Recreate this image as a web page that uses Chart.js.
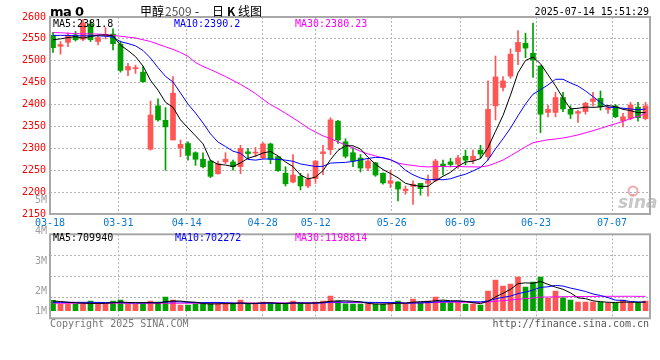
<!DOCTYPE html>
<html><head><meta charset="utf-8">
<script src="https://cdn.jsdelivr.net/npm/chart.js@4.4.1/dist/chart.umd.min.js"></script>
<style>
html,body{margin:0;padding:0;background:#fff;}
#wrap{position:relative;width:660px;height:360px;overflow:hidden;}
#wrap canvas{position:absolute;left:0;top:0;}
</style></head><body>
<div id="wrap"><canvas id="cK" width="660" height="360"></canvas><canvas id="cV" width="660" height="360"></canvas></div>
<script>
// ---------------- data ----------------
const dates = ['03-18','03-19','03-20','03-21','03-24','03-25','03-26','03-27','03-28','03-31',
 '04-01','04-02','04-03','04-07','04-08','04-09','04-10','04-11','04-14','04-15',
 '04-16','04-17','04-18','04-21','04-22','04-23','04-24','04-25','04-28','04-29',
 '04-30','05-06','05-07','05-08','05-09','05-12','05-13','05-14','05-15','05-16',
 '05-19','05-20','05-21','05-22','05-23','05-26','05-27','05-28','05-29','05-30',
 '06-03','06-04','06-05','06-06','06-09','06-10','06-11','06-12','06-13','06-16',
 '06-17','06-18','06-19','06-20','06-23','06-24','06-25','06-26','06-27','06-30',
 '07-01','07-02','07-03','07-04','07-07','07-08','07-09','07-10','07-11','07-14'];
const opens = [2558,2533,2542,2559,2549,2584,2544,2558,2561,2538,
 2479,2482,2474,2298,2397,2364,2319,2301,2311,2290,
 2275,2271,2242,2269,2269,2258,2292,2289,2278,2310,
 2281,2243,2223,2236,2214,2231,2288,2297,2362,2315,
 2290,2278,2255,2267,2243,2220,2223,2203,2213,2220,
 2220,2226,2264,2269,2264,2282,2273,2296,2281,2397,
 2439,2465,2521,2540,2517,2488,2382,2382,2416,2389,
 2380,2384,2407,2414,2389,2397,2363,2368,2394,2368];
const closes = [2530,2537,2558,2548,2586,2548,2553,2560,2539,2478,
 2487,2484,2452,2376,2365,2349,2426,2309,2284,2275,
 2258,2236,2265,2275,2258,2300,2288,2291,2310,2275,
 2249,2219,2239,2214,2229,2271,2292,2365,2319,2282,
 2271,2255,2271,2239,2221,2226,2207,2207,2218,2208,
 2226,2271,2258,2263,2278,2273,2282,2287,2389,2463,
 2454,2515,2542,2529,2502,2378,2389,2416,2390,2378,
 2384,2403,2413,2395,2393,2372,2372,2399,2370,2397];
const highs = [2565,2544,2563,2567,2594,2592,2556,2576,2573,2545,
 2494,2490,2487,2408,2413,2393,2464,2319,2315,2292,
 2290,2273,2271,2290,2273,2307,2300,2302,2313,2312,
 2282,2258,2286,2243,2242,2272,2307,2370,2364,2322,
 2301,2286,2277,2268,2244,2250,2224,2214,2226,2220,
 2239,2275,2273,2277,2284,2296,2296,2307,2454,2511,
 2464,2527,2569,2563,2586,2489,2399,2428,2428,2397,
 2387,2405,2428,2431,2397,2400,2380,2405,2405,2405];
const lows = [2519,2515,2532,2545,2546,2544,2536,2550,2525,2474,
 2466,2471,2451,2296,2362,2250,2319,2281,2273,2261,
 2255,2233,2241,2265,2250,2242,2277,2281,2277,2265,
 2247,2214,2221,2205,2210,2220,2240,2286,2311,2278,
 2258,2246,2249,2236,2218,2210,2180,2195,2172,2193,
 2191,2224,2239,2258,2254,2262,2265,2278,2273,2365,
 2431,2460,2491,2507,2462,2336,2372,2372,2384,2368,
 2359,2378,2397,2387,2380,2370,2349,2365,2362,2365];
const volumes = [849000,575000,575000,548000,548000,795000,575000,575000,795000,877000,
 575000,521000,548000,795000,712000,1123000,877000,466000,466000,575000,
 575000,685000,548000,548000,548000,877000,548000,548000,712000,630000,
 548000,548000,795000,630000,548000,712000,795000,1205000,795000,575000,
 548000,548000,548000,548000,548000,685000,795000,548000,959000,712000,
 795000,1123000,795000,685000,685000,548000,548000,466000,1616000,2521000,
 2027000,2192000,2767000,1945000,2356000,2767000,1014000,1616000,1068000,877000,
 712000,712000,712000,712000,630000,630000,877000,685000,630000,795000];
// moving-average values before a full window exists
const ma5Head = [2548,2550,2553,2555];
const ma10Head = [2558,2558,2558,2557,2557,2557,2557,2556,2554];
const ma30Head = [2564.5,2564,2563,2562,2561.5,2561.5,2561,2560,2558,2556,
 2554,2552,2548,2544,2538,2532,2526,2519,2510,2496,
 2487,2480,2472,2464,2455,2446,2436,2425,2412];
const vma5Head = [800000,760000,700000,650000];
const vma10Head = [690000,690000,690000,690000,690000,690000,685000,680000,680000];
const vma30Head = [620000,620000,620000,620000,620000,620000,620000,620000,620000,620000,
 620000,620000,620000,620000,620000,620000,620000,620000,620000,620000,
 620000,620000,620000,625000,625000,630000,630000,630000,630000];
const priceMin = 2150, priceMax = 2600, priceStep = 50;
const dateTickLabels = ['03-18','03-31','04-14','04-28','05-12','05-26','06-09','06-23','07-07'];
const volTickLabels = ['5M','4M','3M','2M','1M'];
const legendPrice = ['MA5:2381.8','MA10:2390.2','MA30:2380.23'];
const legendVol = ['MA5:709940','MA10:702272','MA30:1198814'];

// ---------------- helpers ----------------
const MONO = '"DejaVu Sans Mono", monospace';
const UP = '#ff5555', DOWN = '#00a000';
const GRID = '#b4b4b4';
const N = dates.length;
const idx = dates.map((d, i) => i);
const dateTickIdx = dateTickLabels.map(l => dates.indexOf(l));
function movingAverage(vals, n, head) {
  return vals.map((v, i) => {
    if (i < n - 1) return head[i];
    let s = 0;
    for (let k = i - n + 1; k <= i; k++) s += vals[k];
    return s / n;
  });
}
const upDown = idx.map(i => closes[i] >= opens[i] ? UP : DOWN);
const pts = arr => arr.map((v, i) => ({x: i, y: v}));
const lineDs = (data, color, axis) => ({type: 'line', data: pts(data), borderColor: color, borderWidth: 1,
  pointRadius: 0, tension: 0, fill: false, xAxisID: 'x', yAxisID: axis, order: 0});

const xData = {type: 'linear', display: false, offset: false, grid: {offset: false}, min: -0.4, max: N - 0.4};
function xDates(showLabels) {
  return {
    type: 'linear', position: 'bottom', offset: false, min: 0, max: N - 1,
    afterBuildTicks: s => { s.ticks = dateTickIdx.map(v => ({value: v})); },
    afterFit: s => { s.height = showLabels ? 20 : 0; },
    grid: {color: GRID, lineWidth: 1, drawTicks: false, offset: false},
    border: {display: false, dash: [2, 2]},
    ticks: {display: showLabels, autoSkip: false, maxRotation: 0, padding: 3, color: '#0a78d2',
      font: {family: MONO, size: 10}, callback: (v, i) => dateTickLabels[i]}
  };
}

// ---------------- price chart ----------------
const priceDecor = {
  id: 'priceDecor',
  beforeDatasetsDraw(chart) {
    const ctx = chart.ctx;
    ctx.save();
    ctx.fillStyle = 'rgba(175,175,175,0.7)';
    ctx.font = 'italic bold 17px "DejaVu Sans"';
    ctx.textBaseline = 'alphabetic';
    ctx.fillText('sina', 618, 208);
    ctx.strokeStyle = 'rgba(235,150,150,0.8)';
    ctx.lineWidth = 2;
    ctx.beginPath(); ctx.arc(633, 191, 4.5, 0, Math.PI * 2); ctx.stroke();
    ctx.restore();
  },
  afterDraw(chart) {
    const ctx = chart.ctx, a = chart.chartArea;
    ctx.save();
    ctx.strokeStyle = '#a8a8a8'; ctx.lineWidth = 2;
    ctx.strokeRect(a.left, a.top, a.right - a.left, a.bottom - a.top);
    // heading
    ctx.fillStyle = '#000';
    ctx.textBaseline = 'alphabetic';
    ctx.font = 'bold 13px "DejaVu Sans"';
    ctx.fillText('m', 50, 16); ctx.fillText('a', 63, 16); ctx.fillText('0', 75, 16);
    ctx.font = '12px "Noto Sans CJK SC"';
    ctx.fillText('甲醇', 140, 16);
    ctx.fillStyle = '#555'; ctx.fillText('2509', 165, 16);
    ctx.fillStyle = '#000'; ctx.fillText('-', 195, 16);
    ctx.fillText('日', 212, 16);
    ctx.font = 'bold 12px "Noto Sans CJK SC"'; ctx.fillText('K', 227, 16);
    ctx.font = '12px "Noto Sans CJK SC"'; ctx.fillText('线图', 238, 16);
    ctx.font = '10px ' + MONO; ctx.textAlign = 'right';
    ctx.fillText('2025-07-14 15:51:29', 649, 15);
    ctx.textAlign = 'left'; ctx.textBaseline = 'middle';
    const cols = ['#000', '#0000ff', '#ff00ff'], xs = [53, 174, 295];
    legendPrice.forEach((t, i) => { ctx.fillStyle = cols[i]; ctx.fillText(t, xs[i], 24); });
    ctx.restore();
  }
};

new Chart(document.getElementById('cK'), {
  type: 'bar',
  data: {
    datasets: [
      lineDs(movingAverage(closes, 5, ma5Head), '#000000', 'y'),
      lineDs(movingAverage(closes, 10, ma10Head), '#0000ff', 'y'),
      lineDs(movingAverage(closes, 30, ma30Head), '#ff00ff', 'y'),
      {type: 'bar', data: idx.map(i => ({x: i, y: [opens[i], closes[i]]})), backgroundColor: upDown,
        borderWidth: 0, barThickness: 5, minBarLength: 1, grouped: false, xAxisID: 'x', yAxisID: 'y', order: 1},
      {type: 'bar', data: idx.map(i => ({x: i, y: [lows[i], highs[i]]})), backgroundColor: upDown,
        borderWidth: 0, barThickness: 1, minBarLength: 1, grouped: false, xAxisID: 'x', yAxisID: 'y', order: 2}
    ]
  },
  options: {
    responsive: false, animation: false,
    layout: {padding: {left: 0, right: 10, top: 17, bottom: 126}},
    plugins: {legend: {display: false}, tooltip: {enabled: false}},
    scales: {
      x: xData,
      xd: xDates(true),
      y: {
        type: 'linear', position: 'left', min: priceMin, max: priceMax,
        afterFit: s => { s.width = 50; },
        grid: {color: GRID, lineWidth: 1, drawTicks: false},
        border: {display: false, dash: [2, 2]},
        ticks: {stepSize: priceStep, autoSkip: false, padding: 4, color: '#ff0000',
          font: {family: MONO, size: 10}, callback: v => String(v)}
      }
    }
  },
  plugins: [priceDecor]
});

// ---------------- volume chart ----------------
const volMin = -620000, volMax = 6280000;
const volDecor = {
  id: 'volDecor',
  afterDraw(chart) {
    const ctx = chart.ctx, a = chart.chartArea;
    ctx.save();
    ctx.strokeStyle = '#a8a8a8'; ctx.lineWidth = 2;
    ctx.strokeRect(a.left, a.top, a.right - a.left, a.bottom - a.top);
    ctx.font = '10px ' + MONO; ctx.textBaseline = 'middle';
    const cols = ['#000', '#0000ff', '#ff00ff'], xs = [53, 175, 295];
    legendVol.forEach((t, i) => { ctx.fillStyle = cols[i]; ctx.fillText(t, xs[i], 238.5); });
    ctx.fillStyle = '#a0a0a0'; ctx.textAlign = 'right';
    const ly = [200, 231, 261, 291, 311];
    volTickLabels.forEach((t, i) => ctx.fillText(t, 47, ly[i]));
    ctx.textAlign = 'left'; ctx.fillStyle = '#777';
    ctx.fillText('Copyright 2025 SINA.COM', 50, 324);
    ctx.textAlign = 'right'; ctx.fillStyle = '#555';
    ctx.fillText('http://finance.sina.com.cn', 649, 324);
    ctx.restore();
  }
};

new Chart(document.getElementById('cV'), {
  type: 'bar',
  data: {
    datasets: [
      lineDs(movingAverage(volumes, 5, vma5Head), '#000000', 'yv'),
      lineDs(movingAverage(volumes, 10, vma10Head), '#0000ff', 'yv'),
      lineDs(movingAverage(volumes, 30, vma30Head), '#ff00ff', 'yv'),
      {type: 'bar', data: pts(volumes), backgroundColor: upDown, borderWidth: 0, barThickness: 5,
        grouped: false, xAxisID: 'x', yAxisID: 'yv', order: 1}
    ]
  },
  options: {
    responsive: false, animation: false,
    layout: {padding: {left: 0, right: 10, top: 234.3, bottom: 41.7}},
    plugins: {legend: {display: false}, tooltip: {enabled: false}},
    scales: {
      x: xData,
      xd: xDates(false),
      yv: {
        type: 'linear', position: 'left', min: volMin, max: volMax,
        afterFit: s => { s.width = 50; },
        afterBuildTicks: s => { s.ticks = [0, 1, 2, 3, 4].map(k => ({value: volMin + k * (volMax - volMin) / 4})); },
        grid: {color: GRID, lineWidth: 1, drawTicks: false},
        border: {display: false, dash: [2, 2]},
        ticks: {display: false}
      }
    }
  },
  plugins: [volDecor]
});
</script>
</body></html>
